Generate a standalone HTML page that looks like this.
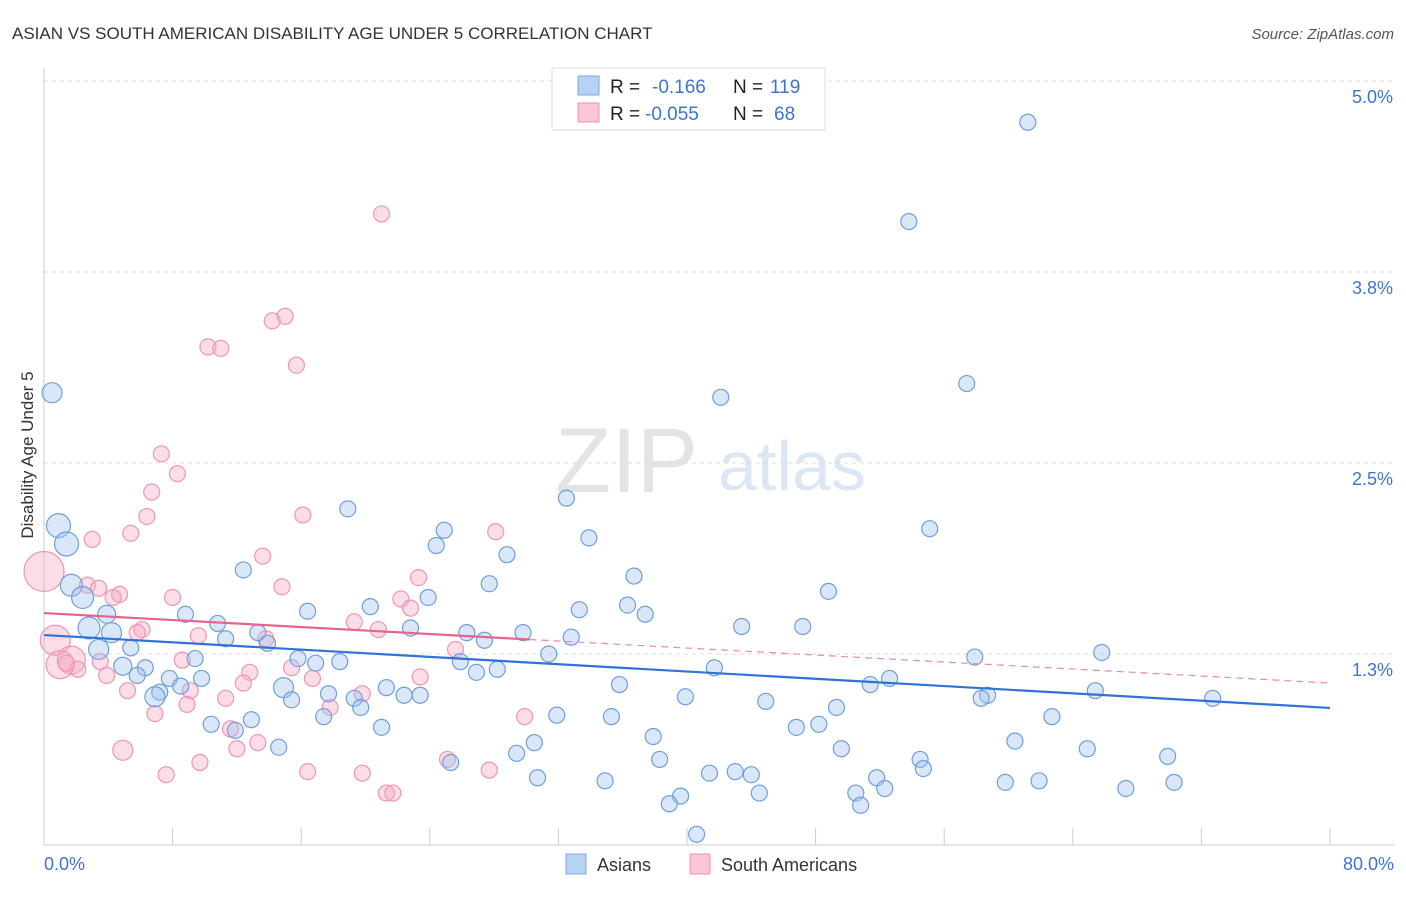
<!DOCTYPE html>
<html><head><meta charset="utf-8"><style>
body{margin:0;background:#fff;font-family:"Liberation Sans",sans-serif;}
svg text{font-family:"Liberation Sans",sans-serif;}
</style></head><body>
<svg id="chart" width="1406" height="892" xmlns="http://www.w3.org/2000/svg">
<text x="12" y="39" font-size="17" fill="#333">ASIAN VS SOUTH AMERICAN DISABILITY AGE UNDER 5 CORRELATION CHART</text>
<text x="1394" y="39" font-size="15" fill="#555" text-anchor="end" font-style="italic">Source: ZipAtlas.com</text>
<text x="555" y="492" font-size="92" fill="#e4e4e4" font-family="Liberation Serif">ZIP</text>
<text x="718" y="490" font-size="70" fill="#dce7f6">atlas</text>
<g id="grid"></g>
<g id="axes"></g>
<g id="marks"></g>
<text transform="translate(33,455) rotate(-90)" font-size="17" fill="#333" text-anchor="middle">Disability Age Under 5</text>
<g>
<rect x="552" y="68" width="273" height="62" fill="#fff" stroke="#ddd"/>
<rect x="578" y="76" width="21" height="19" fill="#b8d2f4" stroke="#7aa8e0"/>
<rect x="578" y="103" width="21" height="19" fill="#f9c6d5" stroke="#f08fb0"/>
<text x="610" y="93" font-size="19" fill="#222">R = </text><text x="652" y="93" font-size="19" fill="#3d74d0">-0.166</text>
<text x="733" y="93" font-size="19" fill="#222">N = </text><text x="770" y="93" font-size="19" fill="#3d74d0">119</text>
<text x="610" y="120" font-size="19" fill="#222">R = </text><text x="645" y="120" font-size="19" fill="#3d74d0">-0.055</text>
<text x="733" y="120" font-size="19" fill="#222">N = </text><text x="774" y="120" font-size="19" fill="#3d74d0">68</text>
</g>
<g>
<rect x="566" y="854" width="20" height="20" fill="#b8d2f4" stroke="#7aa8e0"/>
<text x="597" y="871" font-size="18" fill="#333">Asians</text>
<rect x="690" y="854" width="20" height="20" fill="#f9c6d5" stroke="#f08fb0"/>
<text x="721" y="871" font-size="18" fill="#333">South Americans</text>
</g>
</svg>
<script>
const yTicks=[1.25,2.5,3.75,5.0];
const yTickLabels=["1.3%","2.5%","3.8%","5.0%"];
const xTickLabels=["0.0%","80.0%"];
const asianX=[61.2,53.8,57.4,42.1,0.5,32.5,18.9,55.1,0.9,1.4,24.9,24.4,33.9,28.8,12.4,36.7,27.7,48.8,1.7,2.4,23.9,20.3,36.3,33.3,37.4,16.4,3.9,8.8,10.8,43.4,47.2,2.8,4.2,22.8,26.3,29.8,32.8,11.3,13.3,13.9,27.4,3.4,5.4,31.4,9.4,15.8,16.9,18.4,25.9,4.9,6.3,57.9,65.8,41.7,26.9,28.2,5.8,7.8,9.8,8.5,52.6,51.4,35.8,14.9,21.3,7.2,6.9,65.4,58.7,58.3,39.9,17.7,19.3,22.4,23.4,15.4,44.9,72.7,19.7,49.3,31.9,35.3,62.7,17.4,12.9,10.4,21.0,46.8,48.2,11.9,37.9,60.4,30.5,14.6,49.6,64.9,29.4,38.3,54.5,69.9,25.3,54.7,41.4,43.0,44.0,30.7,34.9,51.8,59.8,61.9,70.3,52.3,67.3,44.5,50.5,39.6,38.9,50.8,40.6];
const asianY=[4.73,4.08,3.02,2.93,2.96,2.27,2.20,2.07,2.09,1.97,2.06,1.96,2.01,1.90,1.80,1.76,1.71,1.66,1.70,1.62,1.62,1.56,1.57,1.54,1.51,1.53,1.51,1.51,1.45,1.43,1.43,1.42,1.39,1.42,1.39,1.39,1.36,1.35,1.39,1.32,1.34,1.28,1.29,1.25,1.22,1.22,1.19,1.20,1.20,1.17,1.16,1.23,1.26,1.16,1.13,1.15,1.11,1.09,1.09,1.04,1.09,1.05,1.05,1.03,1.03,1.00,0.97,1.01,0.98,0.96,0.97,0.99,0.96,0.98,0.98,0.95,0.94,0.96,0.90,0.90,0.85,0.84,0.84,0.84,0.82,0.79,0.77,0.77,0.79,0.75,0.71,0.68,0.67,0.64,0.63,0.63,0.60,0.56,0.56,0.58,0.54,0.50,0.47,0.48,0.46,0.44,0.42,0.44,0.41,0.42,0.41,0.37,0.37,0.34,0.34,0.32,0.27,0.26,0.07];
const asianR={4:10,8:12,9:12,18:11,19:11,31:11,32:10,41:10,26:9,63:10,66:10,49:9};
const saX=[21.0,15.0,14.2,10.2,11.0,15.7,7.3,8.3,6.7,6.4,16.1,28.1,5.4,3.0,13.6,0,23.3,2.7,3.4,14.8,4.7,4.3,22.2,8.0,22.8,19.3,20.8,6.1,5.8,9.6,13.8,25.6,0.7,1.7,1.0,1.4,3.5,2.1,8.6,15.4,12.8,3.9,16.7,23.4,12.4,9.1,5.2,11.3,19.8,8.9,17.8,6.9,29.9,11.6,12.0,13.3,4.9,9.7,25.1,7.6,16.4,19.8,27.7,21.3,21.7];
const saY=[4.13,3.46,3.43,3.26,3.25,3.14,2.56,2.43,2.31,2.15,2.16,2.05,2.04,2.00,1.89,1.79,1.75,1.70,1.68,1.69,1.64,1.62,1.61,1.62,1.55,1.46,1.41,1.41,1.39,1.37,1.35,1.28,1.34,1.21,1.18,1.19,1.20,1.15,1.21,1.16,1.13,1.11,1.09,1.10,1.06,1.01,1.01,0.96,0.99,0.92,0.90,0.86,0.84,0.76,0.63,0.67,0.62,0.54,0.56,0.46,0.48,0.47,0.49,0.34,0.34];
const saR={15:20,32:15,33:14,34:14,56:10};
const asianTrend=[1.374,0.897];
const saTrend=[1.518,1.060];
const saSolidEnd=30.2;

const X0=44,X1=1330,Y0=845;
const xs=v=>X0+v*(X1-X0)/80;
const ys=v=>Y0-v*152.8;
const NS="http://www.w3.org/2000/svg";
function mk(tag,attrs,parent){const e=document.createElementNS(NS,tag);for(const k in attrs)e.setAttribute(k,attrs[k]);document.getElementById(parent).appendChild(e);return e;}
yTicks.forEach((t,i)=>{
 const g=mk('line',{x1:X0,x2:1394,y1:ys(t),y2:ys(t),stroke:'#ddd','stroke-dasharray':'4,4'},'grid');
 
 
 const tx=mk('text',{x:1393,y:ys(t)+22,'font-size':18,fill:'#3d74d0','text-anchor':'end'},'axes');
 tx.textContent=yTickLabels[i];
 
 
});
const ax=mk('line',{x1:X0,x2:X0,y1:68,y2:Y0,stroke:'#ccc'},'axes');


const bx=mk('line',{x1:X0,x2:1394,y1:Y0,y2:Y0,stroke:'#ccc'},'axes');


for(let i=1;i<=10;i++){const t=mk('line',{x1:xs(i*8),x2:xs(i*8),y1:828,y2:Y0,stroke:'#ccc'},'axes');
 
 }
[[0,'start',44],[80,'end',1394]].forEach((a,i)=>{const t=mk('text',{x:a[2],y:870,'font-size':18,fill:'#3d74d0','text-anchor':a[1]},'axes');t.textContent=xTickLabels[i];
 
 });
saX.forEach((x,i)=>{const c=mk('circle',{cx:xs(x),cy:ys(saY[i]),r:saR[i]||8,fill:'rgba(246,170,195,0.4)',stroke:'#f095b3','stroke-width':1.2},'marks');
 
 });
asianX.forEach((x,i)=>{const c=mk('circle',{cx:xs(x),cy:ys(asianY[i]),r:asianR[i]||8,fill:'rgba(160,195,240,0.4)',stroke:'#6f9fdc','stroke-width':1.2},'marks');
 
 });
const bl=mk('line',{x1:xs(0),y1:ys(asianTrend[0]),x2:xs(80),y2:ys(asianTrend[1]),stroke:'#2f72d8','stroke-width':2.2},'marks');


const sm=saTrend[0]+(saTrend[1]-saTrend[0])*saSolidEnd/80;
const pl=mk('line',{x1:xs(0),y1:ys(saTrend[0]),x2:xs(saSolidEnd),y2:ys(sm),stroke:'#e8628e','stroke-width':2.2},'marks');


const pd=mk('line',{x1:xs(saSolidEnd),y1:ys(sm),x2:xs(80),y2:ys(saTrend[1]),stroke:'#eb8aab','stroke-width':1.2,'stroke-dasharray':'7,5'},'marks');


</script>
</body></html>
